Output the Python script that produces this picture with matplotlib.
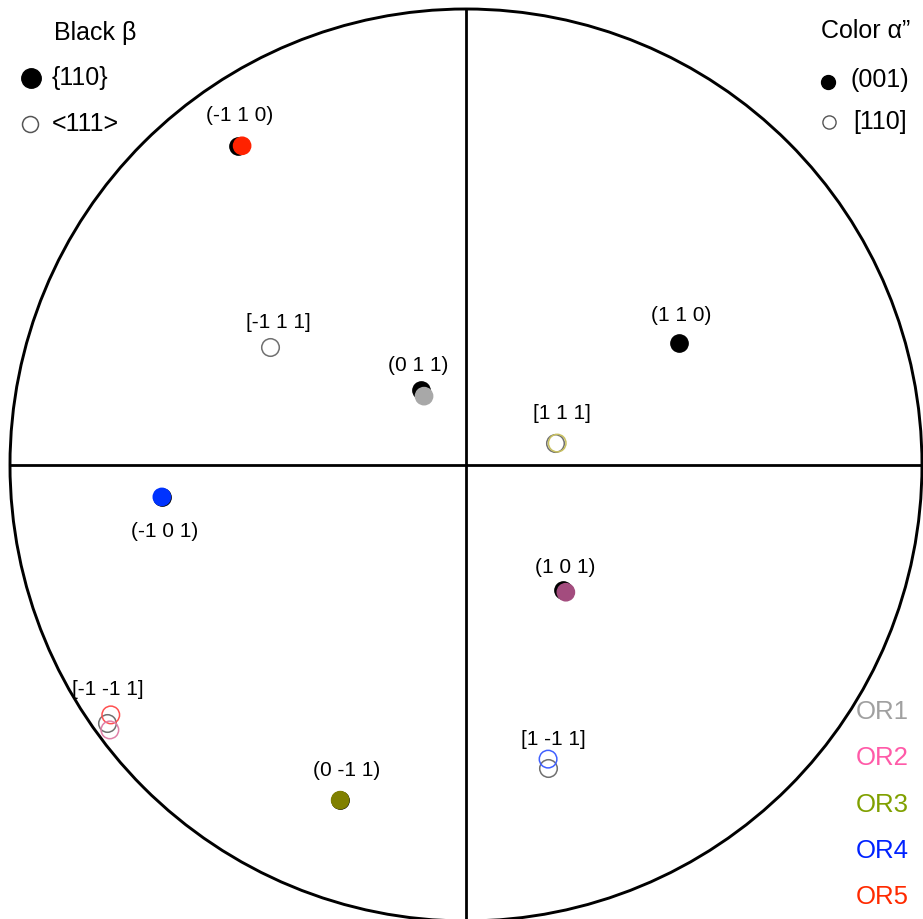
import matplotlib
matplotlib.use("Agg")
import matplotlib.pyplot as plt
from matplotlib.patches import Circle

plt.rcParams['font.family'] = ['Liberation Sans', 'DejaVu Sans']

# pole positions in the projection (unit circle)
planes = ['(-1 1 0)', '(0 1 1)', '(1 1 0)', '(-1 0 1)', '(1 0 1)', '(0 -1 1)']
beta110_x = [-0.500, -0.099, 0.467, -0.667, 0.213, -0.276]
beta110_y = [0.700, 0.164, 0.268, -0.070, -0.274, -0.735]
plane_off = [(2, 30), (-3, 25), (2, 27), (3, -35), (2, 22), (6, 30)]

dirs = ['[-1 1 1]', '[1 1 1]', '[-1 -1 1]', '[1 -1 1]']
beta111_x = [-0.430, 0.195, -0.787, 0.180]
beta111_y = [0.259, 0.048, -0.566, -0.664]
dir_off = [(8, 24), (7, 30), (1, 34), (5, 28)]

alpha001_x = [-0.491, -0.092, -0.667, 0.219, -0.276]
alpha001_y = [0.700, 0.151, -0.070, -0.279, -0.735]
alpha001_c = ['#ff2200', '#a8a8a8', '#0033ff', '#a34c7e', '#808000']

alpha110_x = [0.200, -0.779, -0.781, 0.180]
alpha110_y = [0.048, -0.548, -0.581, -0.645]
alpha110_c = ['#c8c060', '#ff5050', '#e080a8', '#4060ff']

or_names = ['OR1', 'OR2', 'OR3', 'OR4', 'OR5']
or_colors = ['#a0a0a0', '#ff5aa8', '#80a000', '#0022ff', '#ff2a00']

R = 456.0
fig = plt.figure(figsize=(9.23, 9.19), dpi=100)
ax = fig.add_axes([0, 0, 1, 1])
ax.set_xlim(-466 / R, 457 / R)
ax.set_ylim(-454 / R, 465 / R)
ax.axis('off')

ax.add_patch(Circle((0, 0), 1.0, fill=False, lw=2.1, color='black'))
ax.plot([-1, 1], [0, 0], color='black', lw=2.0)
ax.plot([0, 0], [-1, 1], color='black', lw=2.0)

ax.scatter(beta110_x, beta110_y, s=155, c='black', zorder=3)
ax.scatter(beta111_x, beta111_y, s=160, facecolors='white', edgecolors='#707070', lw=1.1, zorder=3)
ax.scatter(alpha001_x, alpha001_y, s=155, c=alpha001_c, zorder=4)
ax.scatter(alpha110_x, alpha110_y, s=160, facecolors='none', edgecolors=alpha110_c, lw=1.1, zorder=4)

for name, x, y, off in zip(planes, beta110_x, beta110_y, plane_off):
    ax.annotate(name, (x, y), xytext=off, textcoords='offset pixels',
                ha='center', va='center', fontsize=15)
for name, x, y, off in zip(dirs, beta111_x, beta111_y, dir_off):
    ax.annotate(name, (x, y), xytext=off, textcoords='offset pixels',
                ha='center', va='center', fontsize=15)

# legends
ft = ax.transAxes
def px(x, y):
    return (x / 923, 1 - y / 919)

ax.text(*px(95, 33), 'Black β', transform=ft, ha='center', va='center', fontsize=18)
ax.plot(*px(31, 78), 'o', ms=14, color='black', transform=ft)
ax.text(*px(52, 78), '{110}', transform=ft, ha='left', va='center', fontsize=18)
ax.plot(*px(30, 124), 'o', ms=11.5, mfc='white', mec='#555555', mew=1.1, transform=ft)
ax.text(*px(52, 124), '<111>', transform=ft, ha='left', va='center', fontsize=18)

ax.text(*px(910, 31), 'Color α”', transform=ft, ha='right', va='center', fontsize=18)
ax.plot(*px(828, 82), 'o', ms=10, color='black', transform=ft)
ax.text(*px(851, 80), '(001)', transform=ft, ha='left', va='center', fontsize=18)
ax.plot(*px(829, 122), 'o', ms=9.5, mfc='white', mec='#555555', mew=1.0, transform=ft)
ax.text(*px(853, 122), '[110]', transform=ft, ha='left', va='center', fontsize=18)

for i, (name, col) in enumerate(zip(or_names, or_colors)):
    ax.text(*px(909, 712 + 46.3 * i), name, transform=ft, ha='right', va='center',
            fontsize=18.5, color=col)

fig.savefig('out.png', dpi=100)
